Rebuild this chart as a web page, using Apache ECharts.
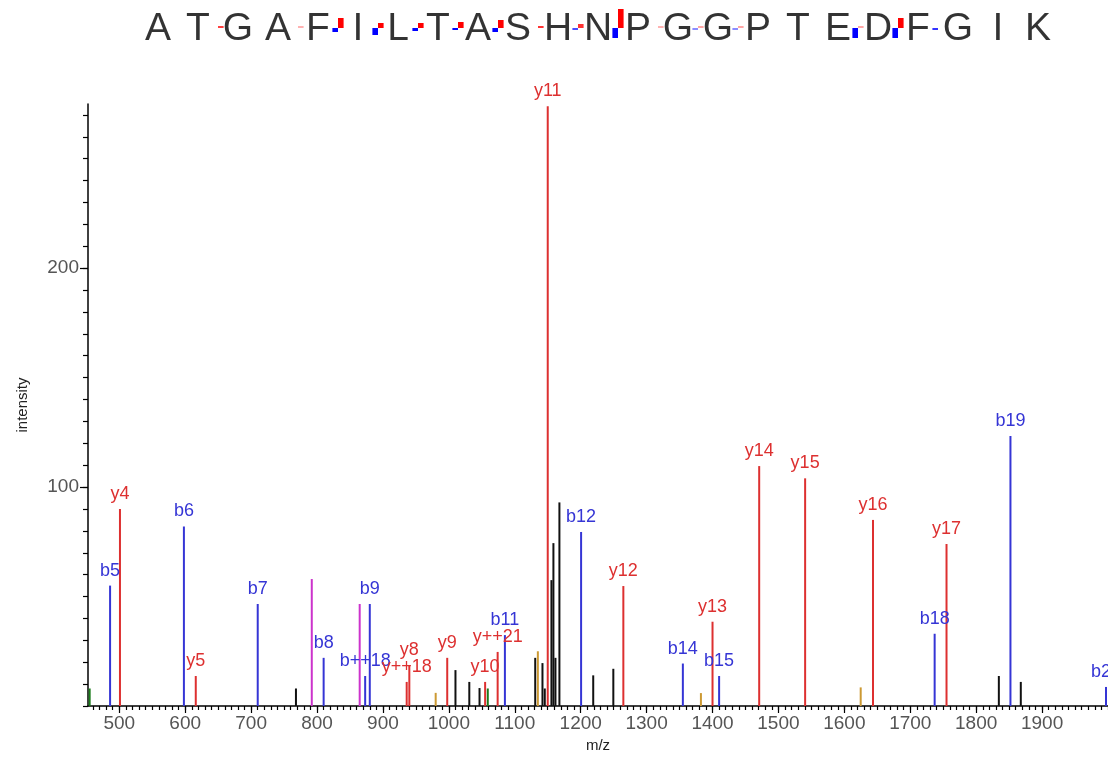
<!DOCTYPE html>
<html>
<head>
<meta charset="utf-8">
<script src="https://cdn.jsdelivr.net/npm/echarts@6/dist/echarts.min.js"></script>
<style>html,body{margin:0;padding:0;background:#fff}#c{width:1108px;height:760px}</style>
</head>
<body>
<div id="c"></div>
<script>
// ---- Data ----
const sequence = ['A','T','G','A','F','I','L','T','A','S','H','N','P','G','G','P','T','E','D','F','G','I','K'];
// fragment markers between residues (gap index, b height, y height, b strength, y strength)
const markGap = [1, 3, 4, 5, 6, 7, 8, 9, 10, 11, 12, 13, 14, 17, 18, 19];
const markB   = [0, 0, 4, 7, 3, 2, 4, 0, 2, 10, 0, 2, 2, 10, 10, 2];
const markY   = [2, 2, 10, 5, 5, 6, 8, 2, 4, 19, 2, 2, 2, 2, 10, 0];
const markBA  = [0, 0, 1, 1, 1, 1, 1, 0, 0.7, 1, 0, 0.45, 0.45, 1, 1, 0.8];
const markYA  = [0.75, 0.3, 1, 1, 1, 1, 1, 0.8, 0.8, 1, 0.3, 0.35, 0.35, 0.35, 1, 0];

const xTicks = [500, 600, 700, 800, 900, 1000, 1100, 1200, 1300, 1400, 1500, 1600, 1700, 1800, 1900];
const yTicks = [100, 200];

const bMz  = [486, 598, 710, 810, 873, 880, 1085, 1200.6, 1355, 1410, 1737, 1852, 1997];
const bInt = [55, 82, 46.6, 22, 13.7, 46.6, 32.4, 79.5, 19.4, 13.7, 33, 123.3, 8.7];
const bLab = ['b5','b6','b7','b8','b++18','b9','b11','b12','b14','b15','b18','b19','b20'];

const yMz  = [501, 616, 936, 940, 997.5, 1055, 1074, 1150, 1264.7, 1400, 1470.8, 1540.5, 1643.5, 1755];
const yInt = [90, 13.7, 11, 18.7, 22, 11, 24.7, 274, 54.8, 38.5, 109.6, 104, 85, 74];
const yLab = ['y4','y5','y++18','y8','y9','y10','y++21','y11','y12','y13','y14','y15','y16','y17'];

const otherMz  = [768, 1010, 1031, 1046.5, 1131, 1142, 1145.5, 1155.6, 1158.6, 1161.7, 1167.7, 1219, 1249.5, 1834.4, 1867.7];
const otherInt = [8, 16.4, 11, 8.2, 22, 19.6, 8, 57.5, 74.4, 22, 93, 14, 17, 13.7, 11];

const magMz  = [792, 864.7];
const magInt = [58, 46.6];
const orgMz  = [980, 1135, 1382.4, 1624.8];
const orgInt = [6, 25, 5.9, 8.5];
const grnMz  = [455, 1059];
const grnInt = [8, 8];

// ---- Chart ----
const X_MIN = 452.5, X_MAX = 2000, Y_MAX = 275;
const FONT = 'Liberation Sans, Arial, Helvetica, sans-serif';
const xMinor = [], yMinor = [];
for (let v = 460; v <= X_MAX; v += 10) xMinor.push(v);
for (let v = 0; v <= 270; v += 10) yMinor.push(v);

const chart = echarts.init(document.getElementById('c'), null, {renderer: 'canvas'});

function pts(mz, it, lab) {
  return mz.map((m, i) => lab ? {value: [m, it[i]], name: lab[i]} : {value: [m, it[i]]});
}
function peakSeries(name, mz, it, lab, color) {
  return {
    type: 'bar', name: name, xAxisIndex: 0, yAxisIndex: 0,
    barWidth: 2, barGap: '-100%', data: pts(mz, it, lab),
    itemStyle: {color: color}, silent: true, animation: false,
    label: lab ? {show: true, position: 'top', distance: 6, formatter: p => p.name,
      color: color, fontFamily: FONT, fontSize: 18} : {show: false}
  };
}

const tickLabel = {color: '#555', fontFamily: FONT, fontSize: 19, formatter: v => String(v)};

chart.setOption({
  animation: false,
  backgroundColor: '#fff',
  grid: [
    {left: 88, top: 104, width: (X_MAX - X_MIN) * 0.66, height: 602},
    {left: 138, top: 0, width: 920, height: 60}
  ],
  xAxis: [
    {type: 'value', gridIndex: 0, position: 'bottom', min: X_MIN, max: X_MAX,
     axisLine: {show: true, onZero: false, lineStyle: {color: '#000', width: 1.5}},
     axisTick: {show: true, length: 7, customValues: xTicks, lineStyle: {color: '#000', width: 1.2}},
     axisLabel: Object.assign({margin: 8, customValues: xTicks}, tickLabel),
     splitLine: {show: false},
     name: 'm/z', nameLocation: 'middle', nameGap: 31,
     nameTextStyle: {color: '#222', fontFamily: FONT, fontSize: 15}},
    {type: 'value', gridIndex: 0, position: 'bottom', min: X_MIN, max: X_MAX,
     axisLine: {show: false},
     axisTick: {show: true, length: 4, customValues: xMinor, lineStyle: {color: '#000', width: 1.2}},
     axisLabel: {show: false}, splitLine: {show: false}},
    {type: 'value', gridIndex: 1, min: -0.5, max: 22.5, show: false}
  ],
  yAxis: [
    {type: 'value', gridIndex: 0, position: 'left', min: 0, max: Y_MAX,
     axisLine: {show: true, onZero: false, lineStyle: {color: '#000', width: 1.5}},
     axisTick: {show: true, length: 8, customValues: yTicks, lineStyle: {color: '#000', width: 1.2}},
     axisLabel: Object.assign({margin: 9, customValues: yTicks}, tickLabel),
     splitLine: {show: false},
     name: 'intensity', nameLocation: 'middle', nameGap: 58, nameRotate: 90,
     nameTextStyle: {color: '#222', fontFamily: FONT, fontSize: 15}},
    {type: 'value', gridIndex: 0, position: 'left', min: 0, max: Y_MAX,
     axisLine: {show: false},
     axisTick: {show: true, length: 5, customValues: yMinor, lineStyle: {color: '#000', width: 1.2}},
     axisLabel: {show: false}, splitLine: {show: false}},
    {type: 'value', gridIndex: 1, min: -32, max: 28, show: false}
  ],
  series: [
    peakSeries('other', otherMz, otherInt, null, '#111111'),
    peakSeries('mag', magMz, magInt, null, '#cc33cc'),
    peakSeries('org', orgMz, orgInt, null, '#cc9933'),
    peakSeries('grn', grnMz, grnInt, null, '#1a7a1a'),
    peakSeries('b', bMz, bInt, bLab, '#3535d5'),
    peakSeries('y', yMz, yInt, yLab, '#dd3030'),
    {
      type: 'scatter', xAxisIndex: 2, yAxisIndex: 2, symbolSize: 0, silent: true,
      data: sequence.map((s, i) => ({value: [i, -1], name: s})),
      label: {show: true, position: 'inside', formatter: p => p.name,
        color: '#000', fontFamily: FONT, fontSize: 39}
    },
    {
      type: 'custom', xAxisIndex: 2, yAxisIndex: 2, silent: true,
      data: markGap.map((g, i) => [g + 0.5, markB[i], markY[i], markBA[i], markYA[i]]),
      renderItem: function (params, api) {
        const g = api.value(0), b = api.value(1), y = api.value(2), ba = api.value(3), ya = api.value(4);
        const c = api.coord([g, 0]);
        const hw = api.size([0.14, 0])[0];
        const children = [];
        if (b > 0) {
          const h = api.size([0, b])[1];
          children.push({type: 'rect', shape: {x: c[0] - hw, y: c[1], width: hw, height: h},
            style: {fill: 'rgba(0,0,255,' + ba + ')'}});
        }
        if (y > 0) {
          const h = api.size([0, y])[1];
          children.push({type: 'rect', shape: {x: c[0], y: c[1] - h, width: hw, height: h},
            style: {fill: 'rgba(255,0,0,' + ya + ')'}});
        }
        return {type: 'group', children: children};
      }
    }
  ]
});
</script>
</body>
</html>
